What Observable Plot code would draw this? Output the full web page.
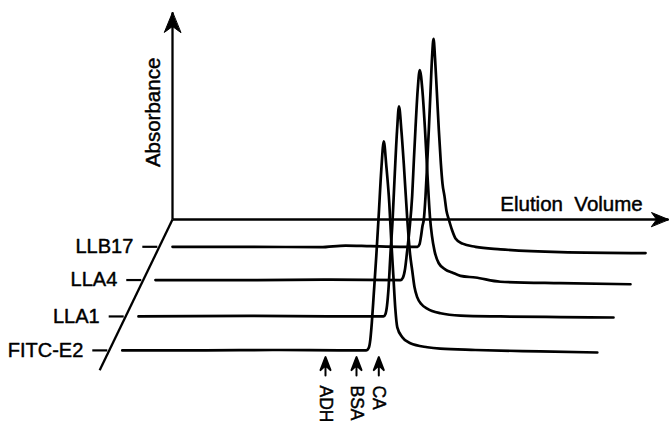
<!DOCTYPE html>
<html><head><meta charset="utf-8">
<script src="https://cdn.jsdelivr.net/npm/d3@7"></script>
<script src="https://cdn.jsdelivr.net/npm/@observablehq/plot@0.6"></script>
<style>html,body{margin:0;padding:0;background:#fff;} svg text{white-space:pre;}</style>
</head><body><div id="chart"></div>
<script>
// Samples (front to back) and their depth along the oblique axis
const samples = ["FITC-E2", "LLA1", "LLA4", "LLB17"];
const sampleDepth = [3.74, 2.77, 1.73, 0.78];

// Elution profiles: [elution volume (arb. units), absorbance (normalised)]
const traceFITC = [[2.6,0],[18,0],[34,0.002],[46,0],[51.4,0],[51.9,0.012],[52.2,0.05],[52.5,0.13],[52.9,0.27],[53.4,0.45],[53.9,0.65],[54.4,0.86],[54.9,0.995],[55.4,0.88],[56,0.7],[56.4,0.52],[56.8,0.36],[57.2,0.2],[57.6,0.11],[58.6,0.063],[60.2,0.034],[63.6,0.015],[66.2,0.008],[73.2,0.002],[86.2,-0.005],[97.6,-0.01]];
const traceLLA1 = [[2.56,0],[25,0.003],[41,0],[51.56,0],[51.96,0.012],[52.26,0.05],[52.56,0.13],[52.96,0.3],[53.36,0.45],[53.76,0.65],[54.26,0.88],[54.66,1.0],[55.16,0.88],[55.62,0.727],[56.3,0.47],[56.86,0.3],[57.3,0.22],[57.76,0.14],[58.3,0.092],[59.16,0.058],[60.3,0.037],[62.96,0.015],[66.96,0.004],[74.96,0],[86.96,-0.003],[97.56,-0.005]];
const traceLLA4 = [[2.44,0],[21.44,0],[37.44,0.002],[51.44,0],[51.94,0.012],[52.34,0.05],[52.74,0.13],[53.24,0.24],[53.78,0.4],[54.14,0.58],[54.44,0.72],[54.9,0.91],[55.3,1.0],[55.84,0.9],[56.34,0.72],[56.84,0.5],[57.34,0.3],[57.74,0.21],[58.24,0.14],[59.1,0.08],[60.44,0.05],[61.78,0.036],[63.44,0.02],[66.44,0.012],[71.44,-0.008],[83.44,-0.015],[97.44,-0.02]];
const traceLLB17 = [[2.64,0],[18.24,0],[32.24,-0.002],[37.24,0.006],[42.24,0.003],[48.24,0],[51.64,0],[52.04,0.012],[52.34,0.05],[52.64,0.1],[52.9,0.13],[53.24,0.24],[53.58,0.4],[53.9,0.557],[54.24,0.74],[54.54,0.9],[54.84,0.99],[55.14,0.9],[55.5,0.74],[55.9,0.557],[56.3,0.4],[56.64,0.3],[57.04,0.24],[57.44,0.17],[57.9,0.13],[58.54,0.08],[59.24,0.04],[60.64,0.015],[63.24,0],[68.24,-0.012],[80.24,-0.025],[97.24,-0.03]];
const traces = [traceFITC, traceLLA1, traceLLA4, traceLLB17];

// Standard markers (elution volume)
const markerNames = ["ADH", "BSA", "CA"];
const markerVolumes = [43.24, 49.44, 53.9];

const axisTitles = {volume: "Elution  Volume", absorbance: "Absorbance"};

// ---- oblique projection (depth -> shift in data units) ----
const DX = -3.38, DY = -35 / 210;
const frame = {absMax: 0.986, volMax: 99.2, depthMax: 4.31};
const projX = (v, d) => v + DX * d;
const projY = (a, d) => a + DY * d;

const lineData = traces.flatMap((t, i) => t.map(([v, a]) => ({
  name: samples[i], x: projX(v, sampleDepth[i]), y: projY(a, sampleDepth[i])
})));

const axisLines = [
  {x1: 0, y1: 0, x2: 0, y2: frame.absMax},
  {x1: 0, y1: 0, x2: frame.volMax, y2: 0},
  {x1: 0, y1: 0, x2: projX(0, frame.depthMax), y2: projY(0, frame.depthMax)}
];

const ticks = samples.map((s, i) => ({
  name: s, x1: projX(0, sampleDepth[i]) - 0.4, x2: projX(0, sampleDepth[i]) - 3.4, y: projY(0, sampleDepth[i])
}));

const frontDepth = sampleDepth[0];
const markers = markerNames.map((m, i) => ({
  name: m, x: projX(markerVolumes[i], frontDepth),
  tip: projY(-0.032, frontDepth), text: projY(-0.167, frontDepth)
}));

const headShape = {
  draw(ctx, l) {
    const w = l * 0.41;
    ctx.moveTo(0, -l); ctx.lineTo(-w, 0); ctx.lineTo(0, -l * 0.3); ctx.lineTo(w, 0); ctx.closePath();
  }
};
const markerShape = {
  draw(ctx, l) {
    const h = 13, w = 5;
    ctx.moveTo(0, 0); ctx.lineTo(0, -l + h * 0.6);
    ctx.moveTo(0, -l); ctx.lineTo(-w, -l + h); ctx.lineTo(0, -l + h * 0.62); ctx.lineTo(w, -l + h); ctx.closePath();
  }
};

const FONT = "Liberation Sans, Arial, Helvetica, sans-serif";
const textStyle = {fill: "black", stroke: "black", strokeWidth: 0.45};

const chart = Plot.plot({
  width: 669, height: 421,
  marginTop: 0, marginRight: 0, marginBottom: 0, marginLeft: 0,
  x: {domain: [-34.4, 99.4], axis: null},
  y: {domain: [-202 / 210, 219 / 210], axis: null},
  style: {fontFamily: FONT, fontSize: "20px", background: "white", color: "black"},
  marks: [
    Plot.link(axisLines, {x1: "x1", y1: "y1", x2: "x2", y2: "y2", stroke: "black", strokeWidth: 2.3}),
    Plot.vector([frame], {x: () => 0, y: d => d.absMax, length: 20, rotate: 0, anchor: "end", shape: headShape, fill: "black", stroke: "black", strokeWidth: 1}),
    Plot.vector([frame], {x: d => d.volMax, y: () => 0, length: 17, rotate: 90, anchor: "end", shape: headShape, fill: "black", stroke: "black", strokeWidth: 1}),
    Plot.link(ticks, {x1: "x1", x2: "x2", y1: "y", y2: "y", stroke: "black", strokeWidth: 2.2}),
    Plot.text(ticks, {x: d => d.x2 - 1.8, y: "y", text: "name", textAnchor: "end", fontSize: 20, ...textStyle}),
    Plot.line(lineData, {x: "x", y: "y", z: "name", curve: "monotone-x", stroke: "black", strokeWidth: 2.7}),
    Plot.vector(markers, {x: "x", y: "tip", length: 18.5, rotate: 0, anchor: "end", shape: markerShape, fill: "black", stroke: "black", strokeWidth: 2}),
    Plot.text(markers, {x: "x", y: "text", text: "name", rotate: 90, textAnchor: "start", fontSize: 17.5, ...textStyle}),
    Plot.text([axisTitles], {x: () => -3.8, y: () => 0.51, text: "absorbance", rotate: -90, textAnchor: "middle", fontSize: 20.5, ...textStyle}),
    Plot.text([axisTitles], {x: () => 79.8, y: () => 0.071, text: "volume", textAnchor: "middle", fontSize: 20.5, ...textStyle})
  ]
});
document.getElementById("chart").appendChild(chart);
</script>
</body></html>
